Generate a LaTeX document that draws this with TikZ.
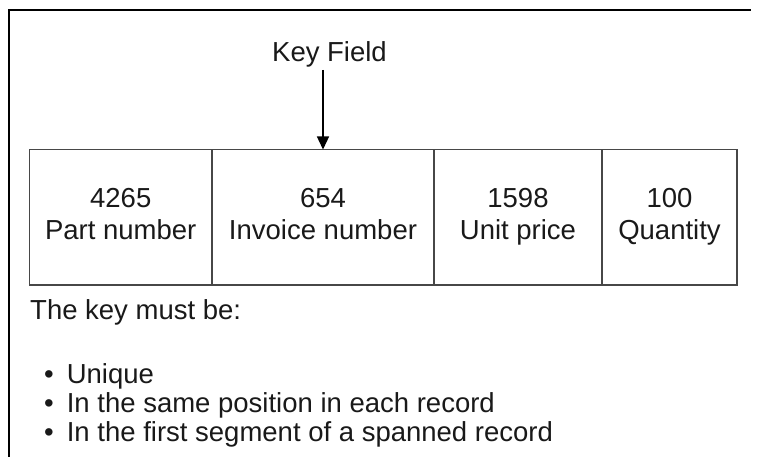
\documentclass[tikz,border=0pt]{standalone}
\usepackage{fontspec}
\setmainfont{Liberation Sans}
\usepackage{xcolor}
\usetikzlibrary{arrows.meta, positioning}

\begin{document}
\begin{tikzpicture}[x=1pt, y=-1pt]
  % styles
  \tikzset{
    field/.style={draw=black!72, line width=1.4pt, inner sep=0pt, outer sep=0pt,
      minimum height=135.5pt, align=center, text=black!90,
      font=\fontsize{27.5}{31.5}\selectfont},
    label/.style={inner sep=0pt, text=black!90, font=\fontsize{27.5}{30}\selectfont},
  }
  \useasboundingbox (0,0) rectangle (760,457);

  % frame (top and left edges)
  \draw[line width=1.2pt] (9,457) -- (9,10) -- (751,10);

  % record fields
  \node[field, minimum width=182.5pt, anchor=north west] (part) at (29.5,149.5)
    {\strut 4265\\\strut Part number};
  \node[field, minimum width=222pt, right=0pt of part] (invoice)
    {\strut 654\\\strut Invoice number};
  \node[field, minimum width=168pt, right=0pt of invoice] (price)
    {\strut 1598\\\strut Unit price};
  \node[field, minimum width=135pt, right=0pt of price] (qty)
    {\strut 100\\\strut Quantity};

  % key field pointer
  \node[label, anchor=base, inner sep=2pt] (key) at (329.5,62) {Key Field};
  \draw[line width=1.3pt, -{Triangle[length=13pt, width=12pt]}]
    (invoice.north |- key.south) -- (invoice.north);

  % notes
  \node[label, anchor=base west] (must) at (30,319) {The key must be:};
  \foreach \y/\txt [count=\i] in {383/Unique, 412/In the same position in each record,
                                  441/In the first segment of a spanned record}{
    \node[label, anchor=base west] (item\i) at (44,\y) {\textbullet\hspace{13pt}\txt};
  }
\end{tikzpicture}
\end{document}
